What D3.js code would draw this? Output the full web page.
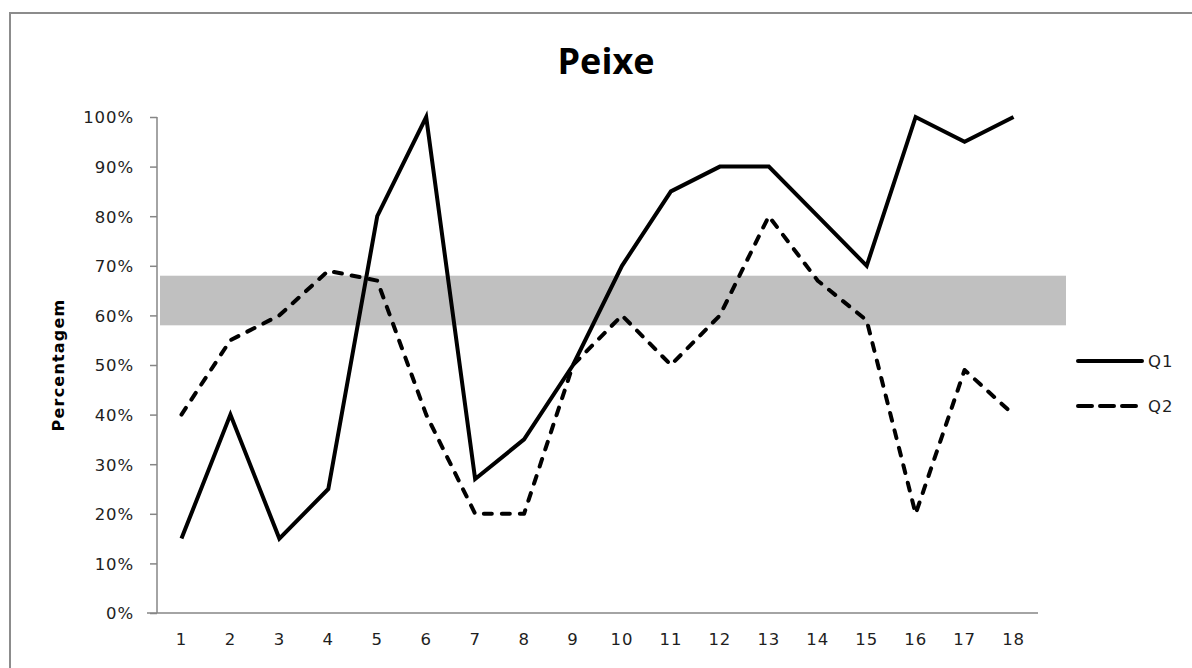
<!DOCTYPE html>
<html>
<head>
<meta charset="utf-8">
<script src="https://cdn.jsdelivr.net/npm/d3@7"></script>
<style>
  html, body { margin: 0; padding: 0; background: #fff; }
  svg { display: block; }
</style>
</head>
<body>
<svg id="chart" width="1192" height="668"></svg>
<script>
// Sample groups 1..18 and percentage answers for each question
const categories = [1, 2, 3, 4, 5, 6, 7, 8, 9, 10, 11, 12, 13, 14, 15, 16, 17, 18];
const q1 = [15, 40, 15, 25, 80, 100, 27, 35, 50, 70, 85, 90, 90, 80, 70, 100, 95, 100];
const q2 = [40, 55, 60, 69, 67, 40, 20, 20, 50, 60, 50, 60, 80, 67, 59, 20, 49, 40];
const yTicks = [0, 10, 20, 30, 40, 50, 60, 70, 80, 90, 100];
// Reference range shaded behind the lines
const refBand = [58, 68];
const seriesNames = ["Q1", "Q2"];

const svg = d3.select("#chart");
const W = 1192, H = 668;
const margin = { left: 157, right: 154, top: 117, bottom: 55 };
const axisColor = "#868686";
const tickFont = { family: "DejaVu Sans", size: 16.5, spacing: 0.9 };

// outer frame
svg.append("rect")
  .attr("x", 10).attr("y", 13)
  .attr("width", W + 20).attr("height", H + 20)
  .attr("fill", "#fff")
  .attr("stroke", "#8c8c8c").attr("stroke-width", 2);

const x = d3.scaleBand()
  .domain(categories)
  .range([margin.left, W - margin.right]);
const y = d3.scaleLinear()
  .domain([0, 100])
  .range([H - margin.bottom, margin.top]);

const cx = d => x(d) + x.bandwidth() / 2;

// shaded reference band
svg.append("rect")
  .attr("x", x.range()[0] + 3)
  .attr("y", y(refBand[1]))
  .attr("width", x.range()[1] - x.range()[0] + 25)
  .attr("height", y(refBand[0]) - y(refBand[1]))
  .attr("fill", "#c0c0c0");

// y axis
const yAxis = svg.append("g")
  .attr("transform", `translate(${margin.left},0)`)
  .call(d3.axisLeft(y).tickValues(yTicks).tickSize(7).tickPadding(16)
    .tickFormat(d => d + "%"));
yAxis.select(".domain").attr("stroke", axisColor).attr("stroke-width", 1.5)
  .attr("d", `M0,${y(100)}V${y(0)}`);
yAxis.selectAll(".tick line").attr("stroke", axisColor).attr("stroke-width", 1.5);
yAxis.selectAll(".tick text")
  .attr("font-family", tickFont.family).attr("font-size", tickFont.size)
  .attr("letter-spacing", tickFont.spacing)
  .attr("fill", "#1e1e1e").attr("dy", "0.36em");

// x axis
const xAxis = svg.append("g")
  .attr("transform", `translate(0,${y(0)})`)
  .call(d3.axisBottom(x).tickSize(0).tickPadding(20));
xAxis.select(".domain").attr("stroke", axisColor).attr("stroke-width", 1.5)
  .attr("d", `M${x.range()[0] - 10},0H${x.range()[1]}`);
xAxis.selectAll(".tick text")
  .attr("font-family", tickFont.family).attr("font-size", tickFont.size)
  .attr("letter-spacing", tickFont.spacing)
  .attr("fill", "#1e1e1e");

// series lines
const line = d3.line()
  .x((d, i) => cx(categories[i]))
  .y(d => y(d));

svg.append("path")
  .datum(q2)
  .attr("d", line)
  .attr("fill", "none")
  .attr("stroke", "#000")
  .attr("stroke-width", 4)
  .attr("stroke-linecap", "round")
  .attr("stroke-linejoin", "round")
  .attr("stroke-dasharray", "8,10");

svg.append("path")
  .datum(q1)
  .attr("d", line)
  .attr("fill", "none")
  .attr("stroke", "#000")
  .attr("stroke-width", 4)
  .attr("stroke-linejoin", "miter");

// title
svg.append("text")
  .attr("x", 606).attr("y", 74)
  .attr("text-anchor", "middle")
  .attr("font-family", "Open Sans").attr("font-weight", "bold")
  .attr("font-size", 36).attr("fill", "#000")
  .text("Peixe");

// y axis title
svg.append("text")
  .attr("transform", `translate(64,${(y(0) + y(100)) / 2}) rotate(-90)`)
  .attr("text-anchor", "middle")
  .attr("font-family", "DejaVu Sans").attr("font-weight", "bold")
  .attr("font-size", 16).attr("letter-spacing", 1.2)
  .attr("fill", "#000")
  .text("Percentagem");

// legend
const legend = svg.append("g");
const legendY = [361, 406];
seriesNames.forEach((name, i) => {
  legend.append("line")
    .attr("x1", 1078).attr("x2", 1142)
    .attr("y1", legendY[i]).attr("y2", legendY[i])
    .attr("stroke", "#000").attr("stroke-width", 4)
    .attr("stroke-linecap", "round")
    .attr("stroke-dasharray", i === 1 ? "14,8" : null);
  legend.append("text")
    .attr("x", 1148).attr("y", legendY[i]).attr("dy", "0.36em")
    .attr("font-family", tickFont.family).attr("font-size", tickFont.size)
    .attr("letter-spacing", tickFont.spacing)
    .attr("fill", "#1e1e1e")
    .text(name);
});
</script>
</body>
</html>
